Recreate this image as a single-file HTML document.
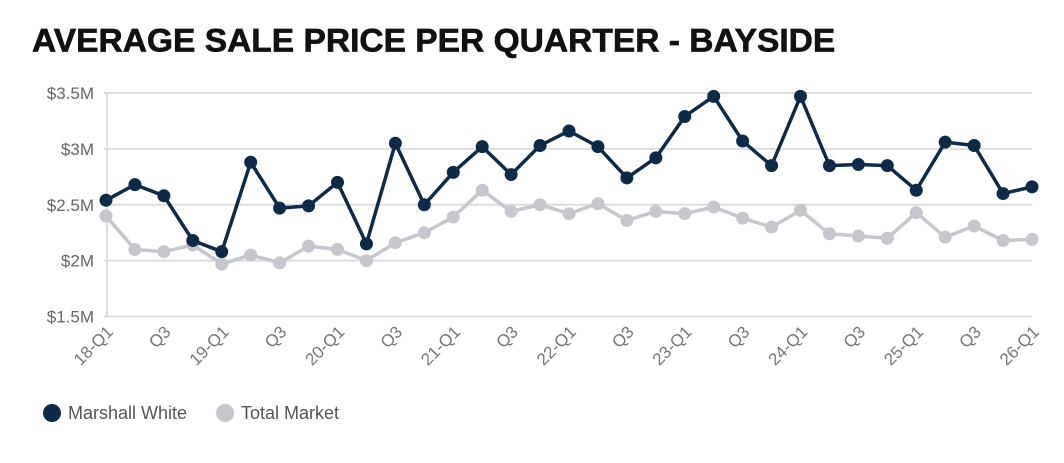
<!DOCTYPE html>
<html><head><meta charset="utf-8"><style>
body{margin:0;background:#fff;width:1064px;height:463px;overflow:hidden;font-family:"Liberation Sans",sans-serif}
#title{position:absolute;left:32px;top:22px;font-size:31px;font-weight:bold;color:#111;letter-spacing:0px;transform:scale(1.082,1.05);transform-origin:left top;-webkit-text-stroke:0.6px #111}
</style></head><body>
<div id="title">AVERAGE SALE PRICE PER QUARTER - BAYSIDE</div>
<svg id="chart" width="1064" height="463" style="position:absolute;left:0;top:0"></svg>
<script>
const categories=["18-Q1","Q2","Q3","Q4","19-Q1","Q2","Q3","Q4","20-Q1","Q2","Q3","Q4","21-Q1","Q2","Q3","Q4","22-Q1","Q2","Q3","Q4","23-Q1","Q2","Q3","Q4","24-Q1","Q2","Q3","Q4","25-Q1","Q2","Q3","Q4","26-Q1"];
const marshallWhite=[2.54,2.68,2.58,2.18,2.08,2.88,2.47,2.49,2.70,2.15,3.05,2.50,2.79,3.02,2.77,3.03,3.16,3.02,2.74,2.92,3.29,3.47,3.07,2.85,3.47,2.85,2.86,2.85,2.63,3.06,3.03,2.60,2.66];
const totalMarket=[2.40,2.10,2.08,2.14,1.97,2.05,1.98,2.13,2.10,2.00,2.16,2.25,2.39,2.63,2.44,2.50,2.42,2.51,2.36,2.44,2.42,2.48,2.38,2.30,2.45,2.24,2.22,2.20,2.43,2.21,2.31,2.18,2.19];
const yTicks=[1.5,2,2.5,3,3.5];
const yTickLabels=["$1.5M","$2M","$2.5M","$3M","$3.5M"];
const NS="http://www.w3.org/2000/svg",svg=document.getElementById('chart');
const x0=106,x1=1032,yTop=93,yBot=316.5;
const xs=i=>x0+(x1-x0)*i/(categories.length-1);
const ys=v=>yBot-(v-1.5)/(3.5-1.5)*(yBot-yTop);
function mk(t,a){const e=document.createElementNS(NS,t);for(const k in a)e.setAttribute(k,a[k]);svg.appendChild(e);return e;}
yTicks.forEach((t,i)=>{
 const g=mk('line',{x1:x0-2,x2:x1,y1:ys(t),y2:ys(t),stroke:'#dedede','stroke-width':2});
 
 
 const l=mk('text',{x:94,y:ys(t)+6,'text-anchor':'end','font-size':17,fill:'#666'});
 l.textContent=yTickLabels[i];
 
 
});
const ax=mk('line',{x1:x0+1,x2:x0+1,y1:yTop,y2:yBot,stroke:'#dedede','stroke-width':2});


categories.forEach((c,i)=>{
 if(i%2)return;
 const t=mk('text',{x:xs(i)+8,y:333,'text-anchor':'end','font-size':17,fill:'#777',transform:`rotate(-45 ${xs(i)+8} 333)`});
 t.textContent=c;
 
 
});
function series(vals,color,name){
 const p=mk('polyline',{points:vals.map((v,i)=>xs(i)+','+ys(v)).join(' '),fill:'none',stroke:color,'stroke-width':3.5,'stroke-linejoin':'round'});
 
 
 vals.forEach((v,i)=>{
  const c=mk('circle',{cx:xs(i),cy:ys(v),r:6.5,fill:color});
  
  
 });
}
series(totalMarket,'#c6c7cc','total-market');
series(marshallWhite,'#0e2a47','marshall-white');
const leg=[["Marshall White","#0e2a47",52],["Total Market","#c6c7cc",225]];
leg.forEach(([n,c,x])=>{
 const d=mk('circle',{cx:x,cy:413,r:9,fill:c});
 
 
 const t=mk('text',{x:x+16,y:419,'font-size':18,fill:'#555'});
 t.textContent=n;
 
 
});
</script>
</body></html>
